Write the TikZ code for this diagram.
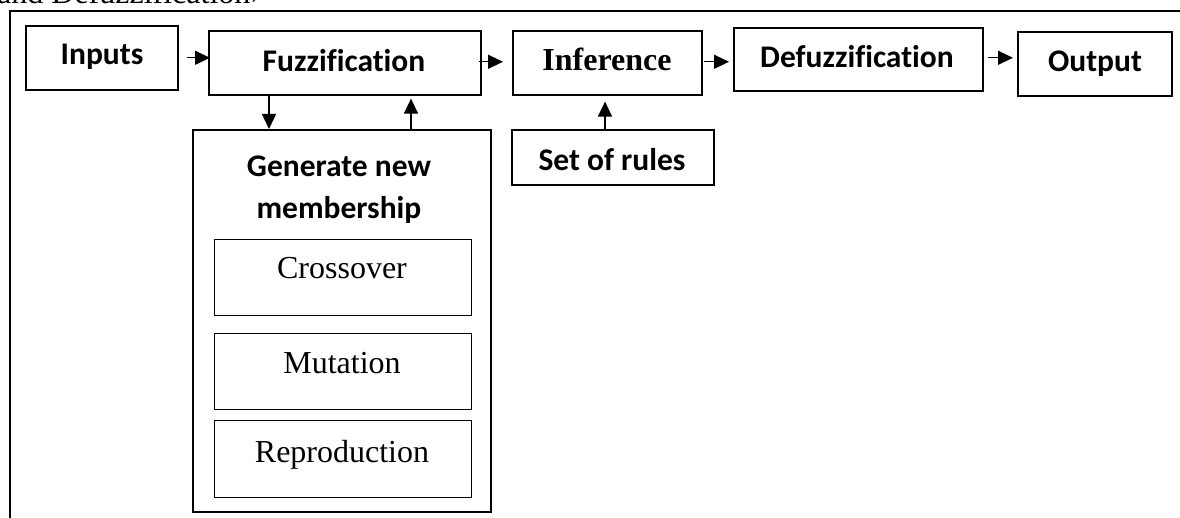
\documentclass[tikz,border=0pt]{standalone}
\usepackage{fontspec}
\setmainfont[Ligatures=NoCommon]{Liberation Serif}
\newfontfamily\carlito[Ligatures=NoCommon]{Carlito}
\usetikzlibrary{arrows.meta}
\tikzset{
  box/.style={draw, line width=1.6pt, inner sep=0pt, anchor=north west},
  subbox/.style={draw, line width=1.3pt, inner sep=0pt, anchor=north west},
  lab/.style={font=\carlito\bfseries\fontsize{31.5}{38}\selectfont, anchor=base, inner sep=0pt},
  slab/.style={font=\bfseries\fontsize{32}{38}\selectfont, anchor=base, inner sep=0pt},
  tlab/.style={font=\fontsize{32}{38}\selectfont, anchor=base, inner sep=0pt},
  arr/.style={line width=1.3pt, -{Triangle[length=15pt,width=14pt]}},
}
\begin{document}
\begin{tikzpicture}[x=1pt,y=-1pt]
\useasboundingbox (0,0) rectangle (1180,518);
\clip (0,0) rectangle (1180,518);
% clipped caption line above
\node[tlab, anchor=base west] (cap) at (-3,4) {and Defuzzification›};
% outer frame
\draw[line width=1.7pt] (10,540) -- (10,11) -- (1200,11);
% main boxes
\node[box, minimum width=152pt, minimum height=64pt] (in) at (25,25) {};
\node[box, minimum width=272pt, minimum height=64pt] (fz) at (208,30) {};
\node[box, minimum width=189pt, minimum height=64pt] (inf) at (512,30) {};
\node[box, minimum width=249pt, minimum height=63pt] (dfz) at (733,27) {};
\node[box, minimum width=154pt, minimum height=64pt] (out) at (1017,31) {};
\node[box, minimum width=202pt, minimum height=55pt] (rules) at (511,129) {};
\node[box, line width=2pt, minimum width=298pt, minimum height=382pt] (gen) at (192,129) {};
\node[subbox, minimum width=257pt, minimum height=76pt] (cross) at (214,239) {};
\node[subbox, minimum width=257pt, minimum height=76pt] (mut) at (214,333) {};
\node[subbox, minimum width=257pt, minimum height=77pt] (rep) at (214,420) {};
% labels
\node[lab] (tin) at (102,65) {Inputs};
\node[lab] (tfz) at (344,72) {Fuzzification};
\node[slab] (tinf) at (607,71) {Inference};
\node[lab] (tdfz) at (857,68) {Defuzzification};
\node[lab] (tout) at (1095,72) {Output};
\node[lab] (trules) at (612,171) {Set of rules};
\node[lab] (tgen1) at (339,177) {Generate new};
\node[lab] (tgen2) at (339,219) {membership};
\node[tlab] (tcross) at (342,279) {Crossover};
\node[tlab] (tmut) at (342,373) {Mutation};
\node[tlab] (trep) at (342,462) {Reproduction};
% connectors
\draw[arr] ([xshift=8pt]in.east) -- ([xshift=2pt]in.east -| fz.west);
\draw[arr] ([xshift=-3pt,yshift=1pt]fz.east) -- ([xshift=-9pt,yshift=1pt]fz.east -| inf.west);
\draw[arr] ([xshift=1pt,yshift=1pt]inf.east) -- ([xshift=-4pt,yshift=1pt]inf.east -| dfz.west);
\draw[arr] ([xshift=4pt,yshift=1.5pt]dfz.east) -- ([xshift=-4pt,yshift=1.5pt]dfz.east -| out.west);
\draw[arr] (rules.north -| 605,0) -- ([yshift=-6pt]inf.south -| 605,0);
\draw[arr] (fz.south -| 269,0) -- (gen.north -| 269,0);
\draw[arr] (gen.north -| 411,0) -- ([yshift=-3pt]fz.south -| 411,0);
\end{tikzpicture}
\end{document}
